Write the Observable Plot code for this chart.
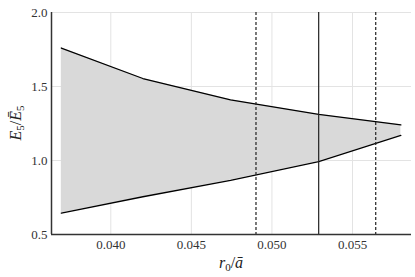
<!DOCTYPE html>
<html>
<head>
<meta charset="utf-8">
<script src="https://cdn.jsdelivr.net/npm/d3@7"></script>
<script src="https://cdn.jsdelivr.net/npm/@observablehq/plot@0.6"></script>
<style>
  html, body { margin: 0; padding: 0; background: #fff; }
  #chart svg, #chart svg text { font-family: "Liberation Serif", serif !important; }
</style>
</head>
<body>
<div id="chart"></div>
<script>
const xs = [0.03693, 0.04199, 0.04743, 0.0529, 0.0580];
const upper = [1.76, 1.554, 1.41, 1.311, 1.241];
const lower = [0.645, 0.755, 0.866, 0.993, 1.169];
const dashedLines = [0.04901, 0.05644];
const solidLines = [0.0529];
const xTicks = [0.040, 0.045, 0.050, 0.055];
const yTicks = [0.5, 1.0, 1.5, 2.0];
const xDomain = [0.03632, 0.05866];
const yDomain = [0.5, 2.0];

const data = xs.map((x, i) => ({x, lo: lower[i], hi: upper[i]}));
const serif = "Liberation Serif";

const chart = Plot.plot({
  width: 415,
  height: 277,
  marginLeft: 51,
  marginRight: 4,
  marginTop: 12,
  marginBottom: 43,
  x: {domain: xDomain},
  y: {domain: yDomain},
  style: {fontFamily: serif, fontSize: "13px", color: "#333", background: "#fff"},
  marks: [
    Plot.gridX(xTicks, {stroke: "#e3e3e3", strokeOpacity: 1, strokeWidth: 1}),
    Plot.gridY(yTicks, {stroke: "#e3e3e3", strokeOpacity: 1, strokeWidth: 1}),
    Plot.areaY(data, {x: "x", y1: "lo", y2: "hi", fill: "#d9d9d9"}),
    Plot.lineY(data, {x: "x", y: "hi", stroke: "#000", strokeWidth: 1.3}),
    Plot.lineY(data, {x: "x", y: "lo", stroke: "#000", strokeWidth: 1.3}),
    Plot.ruleX(dashedLines, {stroke: "#222", strokeWidth: 1.2, strokeDasharray: "3,2"}),
    Plot.ruleX(solidLines, {stroke: "#222", strokeWidth: 1.2}),
    Plot.axisX(xTicks, {tickSize: 0, tickPadding: 5, tickFormat: d3.format(".3f"), label: null, fill: "#333", fontFamily: serif, fontSize: 13}),
    Plot.axisY(yTicks, {tickSize: 0, tickPadding: 4, tickFormat: d3.format(".1f"), label: null, fill: "#333", fontFamily: serif, fontSize: 13}),
    Plot.ruleY([yDomain[0]], {stroke: "#333", strokeWidth: 1.5}),
    Plot.ruleX([xDomain[0]], {stroke: "#333", strokeWidth: 1.5})
  ]
});

const svg = d3.select(chart);
// x label
const xl = svg.append("text")
  .attr("x", 231).attr("y", 268)
  .attr("text-anchor", "middle")
  .attr("font-family", serif)
  .attr("font-size", 16)
  .attr("fill", "#222");
xl.append("tspan").attr("font-style", "italic").text("r");
xl.append("tspan").attr("font-size", 11).attr("dy", 3).text("0");
xl.append("tspan").attr("dy", -3).text("/");
xl.append("tspan").attr("font-style", "italic").text("ā");

// y label
const yl = svg.append("text")
  .attr("transform", "translate(21,123) rotate(-90)")
  .attr("text-anchor", "middle")
  .attr("font-family", serif)
  .attr("font-size", 16)
  .attr("fill", "#222");
yl.append("tspan").attr("font-style", "italic").text("E");
yl.append("tspan").attr("font-size", 11).attr("dy", 3).text("5");
yl.append("tspan").attr("dy", -3).text("/");
yl.append("tspan").attr("font-style", "italic").text("Ē");
yl.append("tspan").attr("font-size", 11).attr("dy", 3).text("5");

document.getElementById("chart").appendChild(chart);
</script>
</body>
</html>
